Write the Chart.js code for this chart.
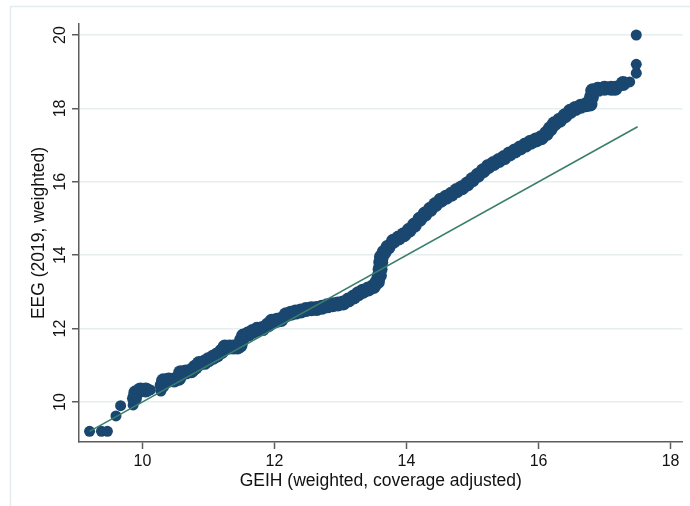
<!DOCTYPE html>
<html>
<head>
<meta charset="utf-8">
<script src="https://cdn.jsdelivr.net/npm/chart.js@4/dist/chart.umd.min.js"></script>
<style>
  body { margin: 0; background: #fff; }
</style>
</head>
<body>
<canvas id="qqChart" width="690" height="506"></canvas>
<script>
// quantile pairs
const geihQuantiles = [
  9.20, 9.38, 9.47, 9.60, 9.67, 9.86, 9.88, 9.90, 9.97, 10.05, 10.12, 10.28, 10.30, 10.32,
  10.40, 10.48, 10.55, 10.58, 10.66, 10.74, 10.80, 10.86, 10.94, 11.00, 11.07, 11.13,
  11.20, 11.25, 11.32, 11.38, 11.44, 11.48, 11.50, 11.53, 11.60, 11.67, 11.74, 11.82,
  11.90, 11.96, 12.04, 12.10, 12.18, 12.25, 12.32, 12.40, 12.48, 12.56, 12.64, 12.72,
  12.80, 12.88, 12.96, 13.04, 13.12, 13.20, 13.27, 13.34, 13.42, 13.50, 13.56, 13.59,
  13.60, 13.61, 13.62, 13.66, 13.72, 13.80, 13.88, 13.96, 14.04, 14.12, 14.20, 14.28,
  14.36, 14.44, 14.52, 14.60, 14.68, 14.76, 14.84, 14.92, 15.00, 15.08, 15.16, 15.24,
  15.32, 15.40, 15.48, 15.56, 15.64, 15.72, 15.80, 15.88, 15.96, 16.04, 16.12, 16.18,
  16.24, 16.32, 16.40, 16.48, 16.56, 16.64, 16.72, 16.78, 16.80, 16.82, 16.90, 17.00,
  17.10, 17.16, 17.28, 17.38, 17.48, 17.48, 17.48
];
const eegQuantiles = [
  9.20, 9.20, 9.20, 9.62, 9.90, 9.92, 10.10, 10.25, 10.33, 10.33, 10.33, 10.30, 10.45, 10.58,
  10.60, 10.60, 10.65, 10.80, 10.82, 10.85, 10.95, 11.05, 11.08, 11.15, 11.22, 11.28,
  11.38, 11.50, 11.50, 11.50, 11.50, 11.55, 11.68, 11.80, 11.85, 11.92, 11.98, 12.00,
  12.10, 12.20, 12.23, 12.25, 12.38, 12.42, 12.45, 12.48, 12.52, 12.54, 12.55, 12.58,
  12.62, 12.65, 12.67, 12.70, 12.78, 12.86, 12.95, 13.02, 13.08, 13.15, 13.28, 13.45,
  13.62, 13.80, 13.95, 14.08, 14.22, 14.38, 14.47, 14.56, 14.68, 14.82, 14.98, 15.12,
  15.25, 15.38, 15.50, 15.58, 15.66, 15.76, 15.84, 15.94, 16.06, 16.18, 16.30, 16.42,
  16.50, 16.58, 16.66, 16.76, 16.84, 16.92, 17.00, 17.08, 17.14, 17.20, 17.32, 17.45,
  17.58, 17.68, 17.80, 17.92, 18.00, 18.06, 18.10, 18.12, 18.30, 18.48, 18.52, 18.55,
  18.55, 18.55, 18.68, 18.72, 18.96, 19.20, 20.00
];
const refLine = [9.2, 17.5];
const xTicks = [10, 12, 14, 16, 18];
const yTicks = [10, 12, 14, 16, 18, 20];
const xTitle = 'GEIH (weighted, coverage adjusted)';
const yTitle = 'EEG (2019, weighted)';

const fontFamily = '"Liberation Sans", Arial, Helvetica, sans-serif';
const axisGray = '#5c5c5c';

// light outer frame + vertical y tick labels (Stata style)
const stataLook = {
  id: 'stataLook',
  beforeDraw(chart) {
    const ctx = chart.ctx;
    ctx.save();
    ctx.strokeStyle = '#e2ebee';
    ctx.lineWidth = 1.5;
    ctx.strokeRect(10.5, 6.5, 740, 560);
    ctx.restore();
  },
  afterDraw(chart) {
    const ctx = chart.ctx;
    const yScale = chart.scales.y;
    ctx.save();
    ctx.font = '16px ' + fontFamily;
    ctx.fillStyle = '#111';
    ctx.textAlign = 'center';
    ctx.textBaseline = 'middle';
    yTicks.forEach(function(v) {
      const py = yScale.getPixelForValue(v);
      ctx.save();
      ctx.translate(61, py);
      ctx.rotate(-Math.PI / 2);
      ctx.fillText(String(v), 0, 0);
      ctx.restore();
    });
    ctx.restore();
  }
};

const points = geihQuantiles.map(function(x, i) { return { x: x, y: eegQuantiles[i] }; });

// dense stretches of the Q-Q band look fatter than lone markers
function markerRadius(ctx) {
  const p = points[ctx.dataIndex];
  if (!p) return 6;
  let near = 0;
  points.forEach(function(q) {
    if (Math.abs(q.x - p.x) < 0.13 && Math.abs(q.y - p.y) < 0.2) near++;
  });
  return near >= 3 ? 7.5 : 5.5;
}

new Chart(document.getElementById('qqChart'), {
  type: 'scatter',
  data: {
    datasets: [{
      type: 'line',
      data: [{ x: refLine[0], y: refLine[0] }, { x: refLine[1], y: refLine[1] }],
      borderColor: '#3a7e6b',
      borderWidth: 1.6,
      pointRadius: 0,
      fill: false,
      order: 0
    }, {
      data: points,
      backgroundColor: '#1a476f',
      borderWidth: 0,
      pointRadius: markerRadius,
      pointHoverRadius: markerRadius,
      order: 1
    }]
  },
  options: {
    responsive: false,
    animation: false,
    layout: { padding: { top: 24, right: 4, left: 0, bottom: 0 } },
    plugins: {
      legend: { display: false },
      tooltip: { enabled: false }
    },
    scales: {
      x: {
        type: 'linear',
        min: 9.04,
        max: 18.18,
        afterBuildTicks: function(s) { s.ticks = xTicks.map(function(v) { return { value: v }; }); },
        afterFit: function(s) { s.height = 64; },
        border: { color: axisGray, width: 1.5 },
        grid: { drawOnChartArea: false, tickLength: 7, tickColor: axisGray, tickWidth: 1.5 },
        ticks: { color: '#111', padding: 3, font: { family: fontFamily, size: 16 } },
        title: {
          display: true,
          text: xTitle,
          color: '#111',
          font: { family: fontFamily, size: 17.5 },
          padding: { top: 0, bottom: 14.5 }
        }
      },
      y: {
        type: 'linear',
        min: 8.91,
        max: 20.3,
        afterBuildTicks: function(s) { s.ticks = yTicks.map(function(v) { return { value: v }; }); },
        afterFit: function(s) { s.width = 79; },
        border: { color: axisGray, width: 1.5 },
        grid: { color: '#e7eef0', lineWidth: 1.5, tickLength: 7, tickColor: axisGray, tickWidth: 1.5 },
        ticks: { display: false },
        title: {
          display: true,
          text: yTitle,
          color: '#111',
          font: { family: fontFamily, size: 17.5 },
          padding: { top: 28.5, bottom: 0 }
        }
      }
    }
  },
  plugins: [stataLook]
});
</script>
</body>
</html>
